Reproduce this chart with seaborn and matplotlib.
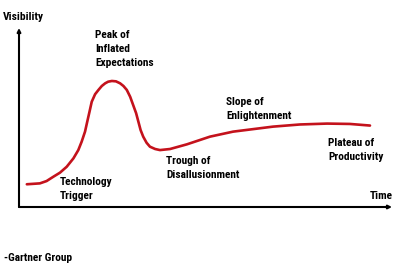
import matplotlib
matplotlib.use("Agg")
import matplotlib.pyplot as plt
from matplotlib import font_manager
import seaborn as sns
import pandas as pd

# Hype cycle curve (time 0-100, visibility 0-100)
time = [2.1, 5.6, 7.4, 9.2, 11.0, 12.8, 14.6, 15.9, 16.8, 17.7, 18.3, 18.9,
        19.5, 20.4, 21.3, 22.2, 23.1, 23.9, 24.9, 26.0, 27.1, 28.0, 28.9,
        29.8, 30.6, 31.4, 32.0, 32.6, 33.3, 34.2, 35.1, 36.5, 37.8, 40.5,
        45.0, 51.2, 57.4, 68.1, 75.3, 82.6, 88.7, 94.1]
visibility = [12.7, 13.2, 14.5, 16.9, 19.2, 22.5, 27.2, 31.8, 36.5, 42.1, 47.7, 53.2,
              58.8, 63.0, 65.4, 67.6, 69.1, 70.0, 70.4, 70.2, 69.1, 67.6, 65.4,
              61.6, 57.0, 52.4, 47.7, 43.0, 39.3, 35.9, 33.7, 32.4, 31.8, 32.4,
              35.0, 39.3, 42.1, 44.9, 46.1, 46.6, 46.4, 45.5]

phase_labels = ["Peak of\nInflated\nExpectations", "Slope of\nEnlightenment",
                "Plateau of\nProductivity", "Trough of\nDisallusionment",
                "Technology\nTrigger"]
x_label = "Time"
y_label = "Visibility"
source = "-Gartner Group"

W, H = 400, 267
sns.set_theme(style="white")
installed = {f.name for f in font_manager.fontManager.ttflist}
family, fs, ls = "Liberation Sans", 7.2, 1.6
for cand in ["Liberation Sans Narrow", "Roboto Condensed", "Arial Narrow"]:
    if cand in installed:
        family, fs, ls = cand, 8.2, 1.55
        break
plt.rcParams["font.family"] = [family, "DejaVu Sans"]

fig = plt.figure(figsize=(W / 100, H / 100), dpi=100)
fig.patch.set_facecolor("white")
left, bottom = 19 / W, (H - 207) / H
ax = fig.add_axes([left, bottom, 373 / W, 179 / H])
ax.set_xlim(0, 100)
ax.set_ylim(0, 100)
ax.set_facecolor("white")
for s in ax.spines.values():
    s.set_visible(False)
ax.set_xticks([])
ax.set_yticks([])

df = pd.DataFrame({"time": time, "visibility": visibility})
sns.lineplot(data=df, x="time", y="visibility", ax=ax, color="#c4121c",
             linewidth=1.9, sort=False, estimator=None)
ax.set_xlabel("")
ax.set_ylabel("")

arrow = dict(arrowstyle="-|>", color="black", lw=1.5, mutation_scale=5,
             shrinkA=0, shrinkB=0)
ax.annotate("", xy=(0, 1), xytext=(0, 0), xycoords="axes fraction",
            arrowprops=arrow, annotation_clip=False)
ax.annotate("", xy=(1, 0), xytext=(0, 0), xycoords="axes fraction",
            arrowprops=arrow, annotation_clip=False)

def ptext(px, py, s, **kw):
    fig.text(px / W, 1 - (py - 2) / H, s, ha="left", va="top",
             fontsize=fs, fontweight="bold", color="black",
             linespacing=ls, **kw)

positions = [(95, 31.5), (226, 99), (328, 140), (166, 158), (60, 179)]
for (px, py), lab in zip(positions, phase_labels):
    ptext(px, py, lab)

ptext(370, 193, x_label)
ptext(3, 14, y_label)
ptext(4, 255, source)

fig.savefig("out.png", dpi=100, facecolor="white")
